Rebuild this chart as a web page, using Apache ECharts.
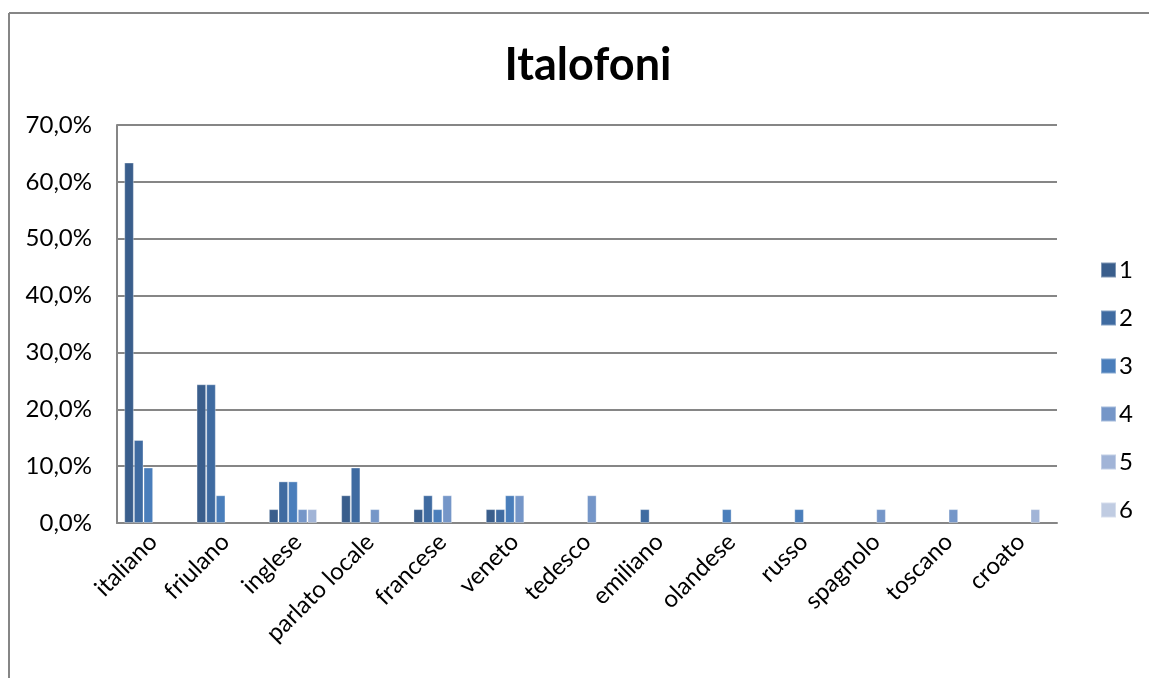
<!DOCTYPE html>
<html>
<head>
<meta charset="utf-8">
<script src="https://cdn.jsdelivr.net/npm/echarts@6/dist/echarts.min.js"></script>
<style>html,body{margin:0;padding:0;background:#fff}#c{width:1149px;height:678px}</style>
</head>
<body>
<div id="c"></div>
<script>
const categories = ['italiano','friulano','inglese','parlato locale','francese','veneto','tedesco','emiliano','olandese','russo','spagnolo','toscano','croato'];
const seriesNames = ['1','2','3','4','5','6'];
const s1 = [63.4, 24.4, 2.44, 4.88, 2.44, 2.44, 0, 0, 0, 0, 0, 0, 0];
const s2 = [14.6, 24.4, 7.32, 9.76, 4.88, 2.44, 0, 2.44, 0, 0, 0, 0, 0];
const s3 = [9.76, 4.88, 7.32, 0, 2.44, 4.88, 0, 0, 2.44, 2.44, 0, 0, 0];
const s4 = [0, 0, 2.44, 2.44, 4.88, 4.88, 4.88, 0, 0, 0, 2.44, 2.44, 0];
const s5 = [0, 0, 2.44, 0, 0, 0, 0, 0, 0, 0, 0, 0, 2.44];
const s6 = [0, 0, 0, 0, 0, 0, 0, 0, 0, 0, 0, 0, 0];
const yTicks = {min: 0, max: 70, interval: 10};
const colors = ['#3A5E8C', '#3F6BA1', '#4A7EBB', '#7596C8', '#A1B4D7', '#C0CCE2'];
const allSeries = [s1, s2, s3, s4, s5, s6];
const FONT = 'Lato';

const chart = echarts.init(document.getElementById('c'), null, {renderer: 'canvas'});
chart.setOption({
  animation: false,
  backgroundColor: '#ffffff',
  textStyle: {fontFamily: FONT},
  title: {
    text: 'Italofoni', left: 583, top: 38, textAlign: 'center',
    textStyle: {fontFamily: FONT, fontSize: 45, fontWeight: 'bold', color: '#000'}
  },
  grid: {left: 117, top: 125, right: 92, bottom: 155, containLabel: false},
  legend: {
    orient: 'vertical', left: 1100, top: 258, padding: 0, itemGap: 24,
    itemWidth: 15, itemHeight: 15, icon: 'rect',
    textStyle: {fontFamily: FONT, fontSize: 24, color: '#000', padding: [0,0,0,-2]},
    data: seriesNames
  },
  xAxis: {
    type: 'category', data: categories,
    axisLine: {show: true, lineStyle: {color: '#868686', width: 2}},
    axisTick: {show: false},
    axisLabel: {rotate: 45, fontFamily: FONT, fontSize: 24, color: '#000', margin: 15, interval: 0}
  },
  yAxis: {
    type: 'value', min: yTicks.min, max: yTicks.max, interval: yTicks.interval,
    axisLine: {show: true, lineStyle: {color: '#868686', width: 2}},
    axisTick: {show: false},
    splitLine: {lineStyle: {color: '#868686', width: 2}},
    axisLabel: {fontFamily: FONT, fontSize: 24, color: '#000', margin: 25,
      formatter: v => v.toFixed(1).replace('.', ',') + '%'}
  },
  series: allSeries.map((d, i) => ({
    name: seriesNames[i], type: 'bar',
    data: d.map(v => (v === 0 ? '-' : v)),
    barGap: '0%', barCategoryGap: '20%',
    itemStyle: {color: colors[i], borderColor: 'rgba(255,255,255,0.35)', borderWidth: 1}
  })),
  graphic: [
    {type: 'line', shape: {x1: 9, y1: 13, x2: 1149, y2: 13}, style: {stroke: '#868686', lineWidth: 2}},
    {type: 'line', shape: {x1: 9, y1: 13, x2: 9, y2: 678}, style: {stroke: '#868686', lineWidth: 2}}
  ]
});
</script>
</body>
</html>
